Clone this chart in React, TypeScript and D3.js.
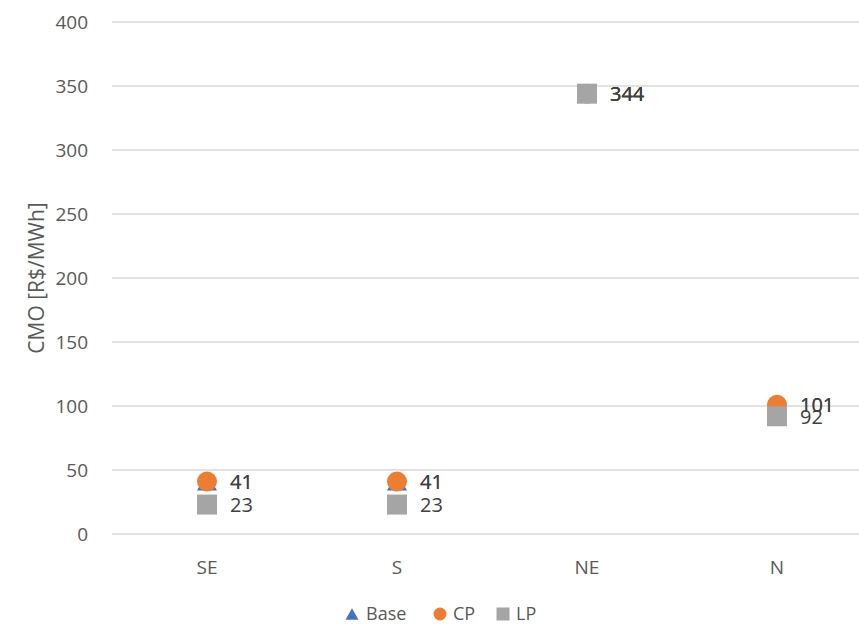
import React from "react";
import * as d3 from "d3";

const categories = ["SE", "S", "NE", "N"];
const baseValues = [41, 41, 344, 101];
const cpValues = [41, 41, 344, 101];
const lpValues = [23, 23, 344, 92];
const yTicks = [0, 50, 100, 150, 200, 250, 300, 350, 400];
const yTitle = "CMO [R$/MWh]";

const W = 859;
const H = 626;
const margin = { left: 112, top: 22, bottom: 92 };
const plotRight = 872;
const FONT = "'Open Sans', sans-serif";
const TEXT = "#595959";
const LABEL = "#404040";

type Series = { name: string; values: number[]; color: string; shape: "triangle" | "circle" | "square" };

const series: Series[] = [
  { name: "Base", values: baseValues, color: "#4472C4", shape: "triangle" },
  { name: "CP", values: cpValues, color: "#ED7D31", shape: "circle" },
  { name: "LP", values: lpValues, color: "#A5A5A5", shape: "square" },
];

function Marker({ shape, color, x, y, size }: { shape: string; color: string; x: number; y: number; size: number }) {
  const h = size / 2;
  if (shape === "circle") return <circle cx={x} cy={y} r={h} fill={color} />;
  if (shape === "square") return <rect x={x - h} y={y - h} width={size} height={size} fill={color} />;
  const th = size * 0.9;
  return (
    <path
      d={`M${x},${y - th / 2}L${x + h},${y + th / 2}L${x - h},${y + th / 2}Z`}
      fill={color}
    />
  );
}

export default function App() {
  const x = d3.scaleBand<string>().domain(categories).range([margin.left, plotRight]);
  const y = d3.scaleLinear().domain([0, 400]).range([H - margin.bottom, margin.top]);
  const cx = (c: string) => (x(c) ?? 0) + x.bandwidth() / 2;

  const legendItems = [
    { s: series[0], mx: 352, tx: 366 },
    { s: series[1], mx: 440, tx: 453 },
    { s: series[2], mx: 503, tx: 516 },
  ];

  return (
    <svg
      width={W}
      height={H}
      style={{ position: "absolute", left: 0, top: 0, background: "#fff" }}
      fontFamily={FONT}
    >
      {yTicks.map((t) => (
        <g key={t}>
          <line x1={margin.left} x2={plotRight} y1={y(t)} y2={y(t)} stroke="#D9D9D9" strokeWidth={1.3} />
          <text x={88} y={y(t)} textAnchor="end" dominantBaseline="central" fontSize={19} fill={TEXT}>
            {t}
          </text>
        </g>
      ))}
      <text
        transform={`translate(36,${(y(0) + y(400)) / 2}) rotate(-90)`}
        textAnchor="middle"
        dominantBaseline="central"
        fontSize={21}
        fill={TEXT}
      >
        {yTitle}
      </text>
      {categories.map((c) => (
        <text key={c} x={cx(c)} y={567} textAnchor="middle" dominantBaseline="central" fontSize={19} fill={TEXT}>
          {c}
        </text>
      ))}
      {series.map((s) => (
        <g key={s.name}>
          {s.values.map((v, i) => (
            <Marker key={i} shape={s.shape} color={s.color} x={cx(categories[i])} y={y(v)} size={20} />
          ))}
        </g>
      ))}
      {series.map((s) => (
        <g key={s.name + "-labels"}>
          {s.values.map((v, i) => (
            <text
              key={i}
              x={cx(categories[i]) + 23}
              y={y(v)}
              dominantBaseline="central"
              fontSize={20}
              fill={LABEL}
            >
              {v}
            </text>
          ))}
        </g>
      ))}
      {legendItems.map(({ s, mx, tx }) => (
        <g key={s.name + "-legend"}>
          <Marker shape={s.shape} color={s.color} x={mx} y={614} size={13} />
          <text x={tx} y={613} dominantBaseline="central" fontSize={18} fill={TEXT}>
            {s.name}
          </text>
        </g>
      ))}
    </svg>
  );
}
